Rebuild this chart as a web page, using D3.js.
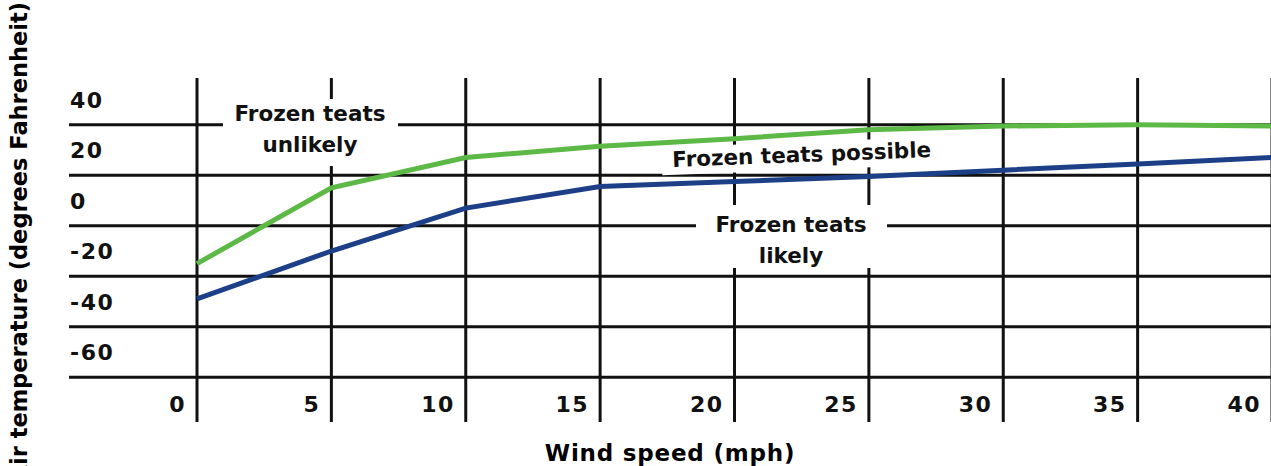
<!DOCTYPE html>
<html>
<head>
<meta charset="utf-8">
<script src="https://cdn.jsdelivr.net/npm/d3@7"></script>
<style>
  body { margin: 0; background: #fff; }
  svg { display: block; font-family: "DejaVu Sans", sans-serif; font-weight: bold; }
  .grid { stroke: #111; stroke-width: 3; }
  .tick { font-size: 22px; letter-spacing: 1.5px; fill: #111; }
  .note { font-size: 21.5px; fill: #111; }
</style>
</head>
<body>
<script>
// wind speed (mph)
var windSpeed = [0, 5, 10, 15, 20, 25, 30, 35, 40];
// upper threshold: above = frozen teats unlikely
var unlikelyLine = [-25, 5, 17, 21.5, 24.5, 28, 29.5, 30, 29.5];
// lower threshold: below = frozen teats likely
var likelyLine = [-39, -20, -3, 5.5, 7.5, 9.5, 12, 14.5, 17];

var yTicks = [40, 20, 0, -20, -40, -60];
var yGrid = [30, 10, -10, -30, -50, -70];
var xTicks = [0, 5, 10, 15, 20, 25, 30, 35, 40];

var width = 1271, height = 466;

var svg = d3.select("body").append("svg")
    .attr("width", width)
    .attr("height", height);

var x = d3.scaleLinear().domain([0, 40]).range([197, 1272]);
var y = d3.scaleLinear().domain([0, 20]).range([200.5, 150]);

//grid lines
svg.selectAll(".hline")
    .data(yGrid)
    .enter()
    .append("line")
    .attr("class", "grid")
    .attr("x1", 69)
    .attr("x2", width)
    .attr("y1", function (d) { return y(d); })
    .attr("y2", function (d) { return y(d); });

svg.selectAll(".vline")
    .data(xTicks)
    .enter()
    .append("line")
    .attr("class", "grid")
    .attr("x1", function (d) { return x(d); })
    .attr("x2", function (d) { return x(d); })
    .attr("y1", 78)
    .attr("y2", 422);

//tick labels
svg.selectAll(".ylab")
    .data(yTicks)
    .enter()
    .append("text")
    .attr("class", "tick")
    .attr("x", 70)
    .attr("y", function (d) { return y(d) + 8; })
    .text(function (d) { return d; });

svg.selectAll(".xlab")
    .data(xTicks)
    .enter()
    .append("text")
    .attr("class", "tick")
    .attr("text-anchor", "end")
    .attr("x", function (d) { return x(d) - 11; })
    .attr("y", 412)
    .text(function (d) { return d; });

//axis titles
svg.append("text")
    .attr("text-anchor", "middle")
    .attr("x", 670)
    .attr("y", 461)
    .style("font-size", "23px")
    .style("letter-spacing", "0.8px")
    .text("Wind speed (mph)");

svg.append("text")
    .attr("text-anchor", "end")
    .attr("transform", "translate(27,2) rotate(-90)")
    .style("font-size", "22.5px")
    .text("Air temperature (degrees Fahrenheit)");

//zone labels with white boxes
function zoneLabel(cx, lines, base, box, angle) {
    var g = svg.append("g");
    if (angle) g.attr("transform", "rotate(" + angle + "," + cx + "," + base + ")");
    g.append("rect")
        .attr("x", box[0]).attr("y", box[1])
        .attr("width", box[2]).attr("height", box[3])
        .attr("fill", "#fff");
    lines.forEach(function (t, i) {
        g.append("text")
            .attr("class", "note")
            .attr("text-anchor", "middle")
            .attr("x", cx)
            .attr("y", base + i * 31)
            .text(t);
    });
}

zoneLabel(310, ["Frozen teats", "unlikely"], 121, [223, 99, 175, 67]);
zoneLabel(791, ["Frozen teats", "likely"], 232, [696, 205, 191, 63]);
zoneLabel(802, ["Frozen teats possible"], 162, [662, 142, 280, 28], -2.2);

//threshold lines
var line = d3.line()
    .x(function (d, i) { return x(windSpeed[i]); })
    .y(function (d) { return y(d); });

svg.append("path")
    .datum(unlikelyLine)
    .attr("fill", "none")
    .attr("stroke", "#5cb946")
    .attr("stroke-width", 5)
    .attr("d", line);

svg.append("path")
    .datum(likelyLine)
    .attr("fill", "none")
    .attr("stroke", "#1c3f87")
    .attr("stroke-width", 5)
    .attr("d", line);
</script>
</body>
</html>
